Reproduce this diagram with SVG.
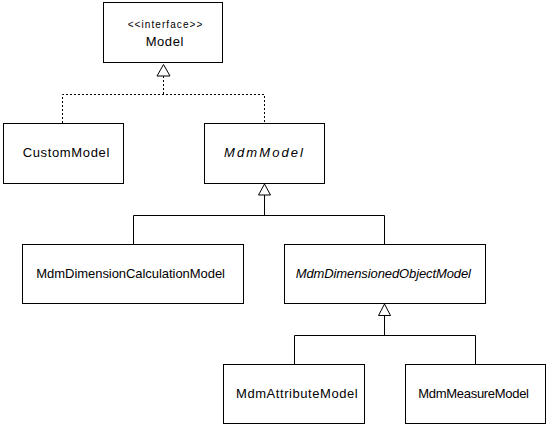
<svg xmlns="http://www.w3.org/2000/svg" width="549" height="427" viewBox="0 0 549 427">
<style>
.box{fill:#fff;stroke:#000;stroke-width:1}
.t{font-family:"Liberation Sans",Arial,sans-serif;font-size:13px;fill:#000}
.i{font-style:italic}
.s{font-size:10px}
.ln{fill:none;stroke:#000;stroke-width:1}
.dot{stroke-dasharray:2,2}
.tri{fill:#fff;stroke:#000;stroke-width:1}
</style>
<rect width="549" height="427" fill="#fff"/>
<g id="connectors">
<polyline class="ln dot" points="62.5,123 62.5,94.5 264.5,94.5 264.5,123"/>
<line class="ln dot" x1="163.5" y1="76" x2="163.5" y2="94.5"/>
<polygon class="tri" points="163.5,64.5 157,76 170,76"/>
<polyline class="ln" points="133.5,244 133.5,215.5 384.5,215.5 384.5,244"/>
<line class="ln" x1="264.5" y1="195" x2="264.5" y2="215.5"/>
<polygon class="tri" points="264.5,184 258.5,195 270.5,195"/>
<polyline class="ln" points="294.5,364 294.5,335.5 475.5,335.5 475.5,364"/>
<line class="ln" x1="384.5" y1="315.5" x2="384.5" y2="335.5"/>
<polygon class="tri" points="384.5,304 378.5,315.5 390.5,315.5"/>
</g>
<g id="Model">
<rect class="box" x="103.5" y="2.5" width="119" height="60"/>
<text class="t s" x="127.7" y="28" textLength="74.6" lengthAdjust="spacing">&lt;&lt;interface&gt;&gt;</text>
<text class="t" x="145.7" y="46" textLength="37.6" lengthAdjust="spacing">Model</text>
</g>
<g id="CustomModel">
<rect class="box" x="3.5" y="123.5" width="120" height="60"/>
<text class="t" x="22.7" y="157" textLength="86.6" lengthAdjust="spacing">CustomModel</text>
</g>
<g id="MdmModel">
<rect class="box" x="204.5" y="123.5" width="120" height="60"/>
<text class="t i" x="224" y="157" textLength="79" lengthAdjust="spacing">MdmModel</text>
</g>
<g id="MdmDimensionCalculationModel">
<rect class="box" x="22.5" y="244.5" width="221" height="59"/>
<text class="t" x="36.3" y="278" textLength="188.7" lengthAdjust="spacing">MdmDimensionCalculationModel</text>
</g>
<g id="MdmDimensionedObjectModel">
<rect class="box" x="284.5" y="244.5" width="201" height="59"/>
<text class="t i" x="295.7" y="278" textLength="175.3" lengthAdjust="spacing">MdmDimensionedObjectModel</text>
</g>
<g id="MdmAttributeModel">
<rect class="box" x="223.5" y="364.5" width="141" height="59"/>
<text class="t" x="236" y="398" textLength="121.7" lengthAdjust="spacing">MdmAttributeModel</text>
</g>
<g id="MdmMeasureModel">
<rect class="box" x="405.5" y="364.5" width="140" height="59"/>
<text class="t" x="418.3" y="398" textLength="110.7" lengthAdjust="spacing">MdmMeasureModel</text>
</g>
</svg>
